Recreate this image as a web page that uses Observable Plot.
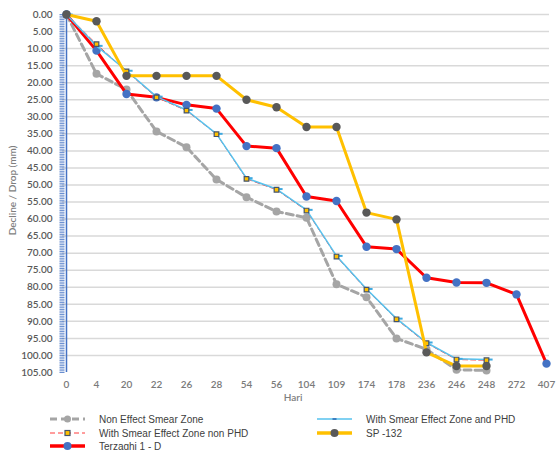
<!DOCTYPE html>
<html>
<head>
<meta charset="utf-8">
<script src="https://cdn.jsdelivr.net/npm/d3@7"></script>
<script src="https://cdn.jsdelivr.net/npm/@observablehq/plot@0.6"></script>
<style>
  html, body { margin: 0; padding: 0; background: #fff; }
  #chart svg { display: block; }
</style>
</head>
<body>
<div id="chart"></div>
<script>
// Categories (Hari)
const hari = ["0","4","20","22","26","28","54","56","104","109","174","178","236","246","248","272","407"];

// Series values (Decline / Drop, mm)
const nonEffectSmear = [0,17.4,22.0,34.3,38.9,48.4,53.6,57.8,59.6,79.1,82.9,95.0,98.2,104.2,104.4];
const smearNonPHD   = [0,8.7,16.7,24.3,28.2,35.1,48.2,51.4,57.5,71.0,80.7,89.4,96.4,101.2,101.4];
const smearPHD      = [0,9.2,16.5,24.1,28.0,35.0,48.0,51.2,57.3,70.8,80.5,89.2,96.2,101.0,101.2];
const terzaghi      = [0,10.6,23.3,24.3,26.5,27.6,38.6,39.2,53.4,54.7,68.1,68.8,77.2,78.6,78.7,82.1,102.4];
const sp132         = [0,2.0,18.0,18.0,18.0,18.0,25.0,27.2,33.0,33.0,58.1,60.1,99.1,103.1,103.1];

// Axis ticks
const yTicks = d3.range(0, 105.01, 5);
const yGrid = d3.range(0, 100.01, 5);
const yMinor = d3.range(0, 105.01, 0.5);

const series = (vals) => vals.map((v, i) => ({x: hari[i], y: v}));

const dashSymbol = {
  draw(ctx, size) {
    const w = Math.sqrt(size) / 2;
    ctx.moveTo(-w, 0);
    ctx.lineTo(w, 0);
  }
};

const W = 556, H = 400;
const fontTick = "Lato, 'Open Sans', sans-serif";

const plot = Plot.plot({
  width: W,
  height: H,
  marginLeft: 62,
  marginRight: 7,
  marginTop: 14,
  marginBottom: 28,
  style: {fontFamily: fontTick, fontSize: "10px", color: "#595959", background: "white", overflow: "visible"},
  x: {type: "point", domain: hari, padding: 0},
  y: {domain: [0, 105], reverse: true},
  marks: [
    Plot.ruleY(yGrid, {stroke: "#d9d9d9", strokeWidth: 1.5}),
    Plot.ruleX([hari[0]], {stroke: "#4472c4", strokeWidth: 1.5}),
    Plot.axisY({ticks: yMinor, tickSize: 5, dx: 2.5, tickFormat: () => "", label: null, stroke: "#4472c4", strokeWidth: 0.8}),
    Plot.axisY({ticks: yTicks, tickSize: 0, tickPadding: 10, tickFormat: d => d.toFixed(2), label: null, fill: "#595959", fontWeight: 600, fontSize: 10}),
    Plot.axisX({tickSize: 0, tickPadding: 8, label: null, fill: "#7a7a7a", fontWeight: 600, fontSize: 10}),
    Plot.text(["Hari"], {frameAnchor: "bottom", lineAnchor: "middle", dx: -13, dy: 25, fill: "#7f7f7f", fontSize: 10, fontWeight: 600}),
    Plot.text(["Decline / Drop (mm)"], {frameAnchor: "left", textAnchor: "middle", lineAnchor: "middle", dx: -50, dy: -3, rotate: -90, fill: "#7f7f7f", fontSize: 10, fontWeight: 600}),

    // Non Effect Smear Zone
    Plot.line(series(nonEffectSmear), {x: "x", y: "y", stroke: "#a5a5a5", strokeWidth: 3, strokeDasharray: "7,4"}),
    Plot.dot(series(nonEffectSmear), {x: "x", y: "y", fill: "#a5a5a5", r: 4}),

    // Terzaghi 1 - D
    Plot.line(series(terzaghi), {x: "x", y: "y", stroke: "#ff0000", strokeWidth: 3}),
    Plot.dot(series(terzaghi), {x: "x", y: "y", fill: "#4472c4", r: 4.2}),

    // With Smear Effect Zone non PHD
    Plot.line(series(smearNonPHD), {x: "x", y: "y", stroke: "#ff3b3b", strokeWidth: 1, strokeDasharray: "5,3"}),

    // With Smear Effect Zone and PHD
    Plot.line(series(smearPHD), {x: "x", y: "y", stroke: "#56c2ee", strokeWidth: 1.5}),
    Plot.dot(series(smearPHD), {x: "x", y: "y", symbol: dashSymbol, r: 3.5, dx: 3, fill: "none", stroke: "#3fa9e0", strokeWidth: 2}),
    Plot.dot(series(smearNonPHD), {x: "x", y: "y", symbol: "square", r: 2.6, fill: "#ffc000", stroke: "#44546a", strokeWidth: 1.2}),

    // SP -132
    Plot.line(series(sp132), {x: "x", y: "y", stroke: "#ffc000", strokeWidth: 3}),
    Plot.dot(series(sp132), {x: "x", y: "y", fill: "#595959", r: 4.2})
  ]
});
document.getElementById("chart").appendChild(plot);

// Legend
const legendItems = [
  {label: "Non Effect Smear Zone", col: 0, row: 0, kind: "gray"},
  {label: "With Smear Effect Zone non PHD", col: 0, row: 1, kind: "nonphd"},
  {label: "Terzaghi 1 - D", col: 0, row: 2, kind: "terz"},
  {label: "With Smear Effect Zone and PHD", col: 1, row: 0, kind: "phd"},
  {label: "SP -132", col: 1, row: 1, kind: "sp"}
];
const lg = d3.select("#chart").append("svg").attr("width", W).attr("height", 50)
  .style("font-family", "'Liberation Sans', Arial, sans-serif").style("font-size", "10px");
const colX = [50, 317], rowY = [19, 33, 46];
legendItems.forEach(it => {
  const x0 = colX[it.col], y0 = rowY[it.row], x1 = x0 + 35, xm = x0 + 17.5;
  const g = lg.append("g");
  if (it.kind === "gray") {
    g.append("line").attr("x1", x0).attr("x2", x1).attr("y1", y0).attr("y2", y0).attr("stroke", "#a5a5a5").attr("stroke-width", 3).attr("stroke-dasharray", "7,4");
    g.append("circle").attr("cx", xm).attr("cy", y0).attr("r", 3.5).attr("fill", "#a5a5a5");
  } else if (it.kind === "nonphd") {
    g.append("line").attr("x1", x0).attr("x2", x1).attr("y1", y0).attr("y2", y0).attr("stroke", "#ff3b3b").attr("stroke-width", 1).attr("stroke-dasharray", "5,3");
    g.append("rect").attr("x", xm - 2.5).attr("y", y0 - 2.5).attr("width", 5).attr("height", 5).attr("fill", "#ffc000").attr("stroke", "#44546a").attr("stroke-width", 1.2);
  } else if (it.kind === "terz") {
    g.append("line").attr("x1", x0).attr("x2", x1).attr("y1", y0).attr("y2", y0).attr("stroke", "#ff0000").attr("stroke-width", 3.5);
    g.append("circle").attr("cx", xm).attr("cy", y0).attr("r", 4).attr("fill", "#4472c4");
  } else if (it.kind === "phd") {
    g.append("line").attr("x1", x0).attr("x2", x1).attr("y1", y0).attr("y2", y0).attr("stroke", "#56c2ee").attr("stroke-width", 1.5);
    g.append("line").attr("x1", xm - 2).attr("x2", xm + 2).attr("y1", y0).attr("y2", y0).attr("stroke", "#3f7fc0").attr("stroke-width", 2);
  } else if (it.kind === "sp") {
    g.append("line").attr("x1", x0).attr("x2", x1).attr("y1", y0).attr("y2", y0).attr("stroke", "#ffc000").attr("stroke-width", 3.5);
    g.append("circle").attr("cx", xm).attr("cy", y0).attr("r", 4).attr("fill", "#595959");
  }
  g.append("text").attr("x", x0 + 49).attr("y", y0).attr("dy", "0.35em").attr("fill", "#404040").text(it.label);
});
</script>
</body>
</html>
